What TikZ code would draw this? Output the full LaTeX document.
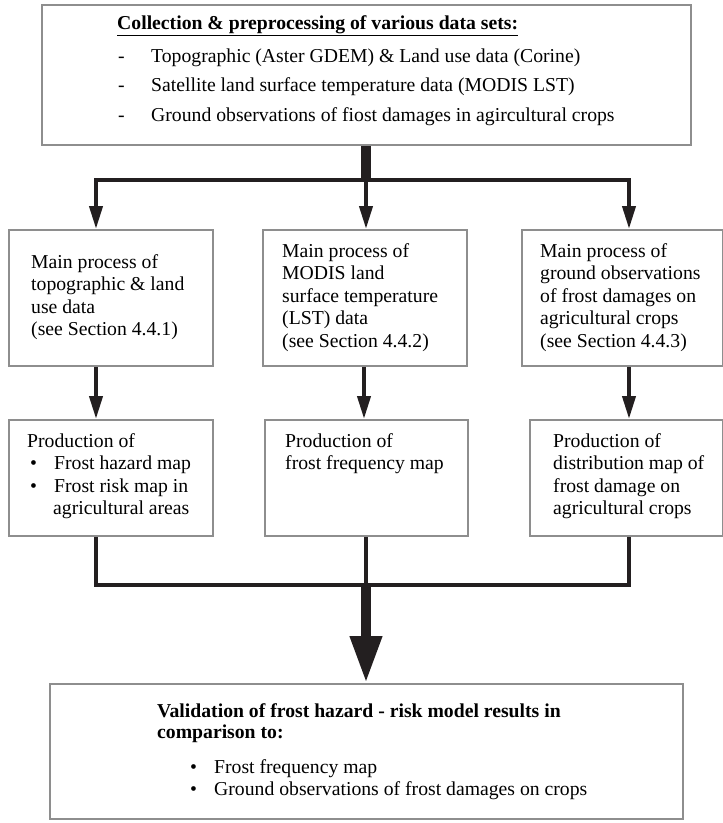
\documentclass[tikz,border=0pt]{standalone}
\usepackage{fontspec}
\setmainfont{Liberation Serif}
\usetikzlibrary{arrows.meta}
\definecolor{ink}{HTML}{231F20}
\definecolor{frame}{HTML}{8E8E8E}

\begin{document}
\begin{tikzpicture}[x=1pt,y=-1pt,
  box/.style={draw=frame, line width=2pt, fill=white, inner sep=0pt, anchor=north west},
  txt/.style={inner sep=0pt, anchor=base west, font=\fontsize{19.7}{22.5}\selectfont},
  conn/.style={draw=ink, line width=4pt},
  tip/.style={-{Triangle[width=13pt,length=23pt]}},
  bigtip/.style={-{Triangle[width=30pt,length=47pt]}},
]
\useasboundingbox (0,0) rectangle (723,823);

% boxes
\node[box, minimum width=649pt, minimum height=140pt] (top) at (41,4) {};
\node[box, minimum width=204pt, minimum height=136pt] (mainL) at (8,229) {};
\node[box, minimum width=204pt, minimum height=136pt] (mainM) at (262,229) {};
\node[box, minimum width=201pt, minimum height=136pt] (mainR) at (521,229) {};
\node[box, minimum width=204pt, minimum height=116pt] (prodL) at (8,419) {};
\node[box, minimum width=203pt, minimum height=116pt] (prodM) at (264,419) {};
\node[box, minimum width=193pt, minimum height=116pt] (prodR) at (529,419) {};
\node[box, minimum width=633pt, minimum height=135pt] (valid) at (49,683) {};

% connector junctions
\coordinate (split) at (366,180);
\coordinate (splitL) at (96,180);
\coordinate (splitR) at (629,180);
\coordinate (merge) at (366,585);

% distribution from the top box
\draw[conn, line width=10pt] (top.south -| split) -- (split);
\draw[conn, tip] (split) -| (splitL |- mainL.north);
\draw[conn, tip] (split) -| (splitR |- mainR.north);
\draw[conn, tip] (split) -- (split |- mainM.north);

% main processes to products
\draw[conn, tip] (mainL.south -| splitL) -- (prodL.north -| splitL);
\draw[conn, tip] (mainM.south -| 364,0) -- (prodM.north -| 364,0);
\draw[conn, tip] (mainR.south -| splitR) -- (prodR.north -| splitR);

% products merged into validation
\draw[conn] (prodL.south -| splitL) |- (merge);
\draw[conn] (prodR.south -| splitR) |- (merge);
\draw[conn] (prodM.south -| merge) -- (merge);
\draw[conn, line width=10pt, bigtip] (merge) -- (valid.north -| merge);

% top box text
\node[txt] (headTop) at (117,29) {\textbf{\underline{Collection \& preprocessing of various data sets:}}};
\node[txt] (itemA) at (118,62) {\makebox[33pt][l]{-}Topographic (Aster GDEM) \& Land use data (Corine)};
\node[txt] (itemB) at (118,91) {\makebox[33pt][l]{-}Satellite land surface temperature data (MODIS LST)};
\node[txt] (itemC) at (118,121) {\makebox[33pt][l]{-}Ground observations of fiost damages in agircultural crops};

% main process texts
\node[txt] (mainLt) at (31,268) {\parbox[t]{178pt}{Main process of\\topographic \& land\\use data\\(see Section 4.4.1)}};
\node[txt] (mainMt) at (282,257) {\parbox[t]{180pt}{Main process of\\MODIS land\\surface temperature\\(LST) data\\(see Section 4.4.2)}};
\node[txt] (mainRt) at (540,257) {\parbox[t]{180pt}{Main process of\\ground observations\\of frost damages on\\agricultural crops\\(see Section 4.4.3)}};

% product texts
\node[txt] (prodLt) at (27,447) {\parbox[t]{180pt}{Production of\\\hspace*{3pt}\makebox[24pt][l]{\textbullet}Frost hazard map\\\hspace*{3pt}\makebox[24pt][l]{\textbullet}Frost risk map in\\\hspace*{26pt}agricultural areas}};
\node[txt] (prodMt) at (285,447) {\parbox[t]{180pt}{Production of\\frost frequency map}};
\node[txt] (prodRt) at (553,447) {\parbox[t]{170pt}{Production of\\distribution map of\\frost damage on\\agricultural crops}};

% validation text
\node[txt] (validHead) at (157,717) {\parbox[t]{500pt}{\baselineskip=21.5pt\bfseries Validation of frost hazard - risk model results in\\comparison to:}};
\node[txt] (validA) at (190,773) {\makebox[24pt][l]{\textbullet}Frost frequency map};
\node[txt] (validB) at (190,795) {\makebox[24pt][l]{\textbullet}Ground observations of frost damages on crops};
\end{tikzpicture}
\end{document}
